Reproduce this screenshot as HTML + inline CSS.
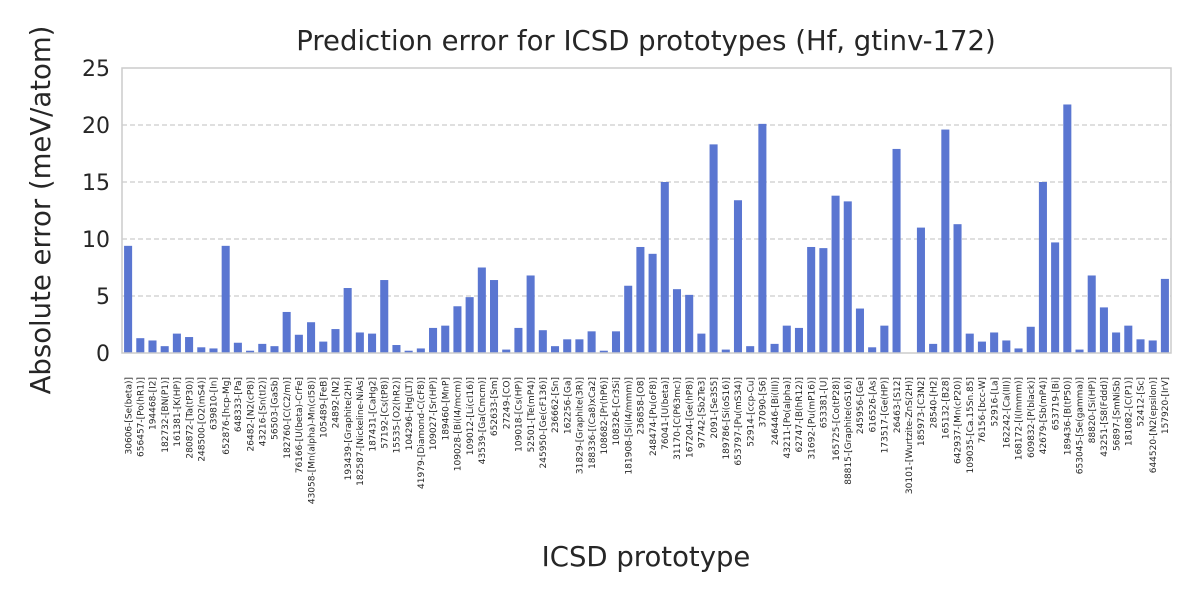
<!DOCTYPE html>
<html><head><meta charset="utf-8"><style>
body{margin:0;background:#fff;}
svg text{font-family:"DejaVu Sans","Liberation Sans",sans-serif;fill:#262626;}
</style></head><body>
<svg id="chart" width="1200" height="600" xmlns="http://www.w3.org/2000/svg">
<rect width="1200" height="600" fill="#fff"/>
<g id="grid"></g>
<g id="bars"></g>
<rect x="122" y="68" width="1049" height="285" fill="none" stroke="#cccccc" stroke-width="1.5"/>
<g id="yticks"></g>
<g id="xticks"></g>
<text x="646" y="50" font-size="27.5" text-anchor="middle">Prediction error for ICSD prototypes (Hf, gtinv-172)</text>
<text transform="translate(50,210) rotate(-90)" font-size="27.5" text-anchor="middle">Absolute error (meV/atom)</text>
<text x="646" y="566" font-size="27.5" text-anchor="middle">ICSD prototype</text>
</svg>
<script>
const categories=["30606-[Se(beta)]","656457-[Po(hR1)]","194468-[I2]","182732-[BN(P1)]","161381-[K(HP)]","280872-[Ta(tP30)]","248500-[O2(mS4)]","639810-[In]","652876-[hcp-Mg]","648333-[Pa]","26482-[N2(cP8)]","43216-[Sn(tI2)]","56503-[GaSb]","182760-[C(C2/m)]","76166-[U(beta)-CrFe]","43058-[Mn(alpha)-Mn(cI58)]","105489-[FeB]","24892-[N2]","193439-[Graphite(2H)]","182587-[Nickeline-NiAs]","187431-[CaHg2]","57192-[Cs(tP8)]","15535-[O2(hR2)]","104296-[Hg(LT)]","41979-[Diamond-C(cF8)]","109027-[Sr(HP)]","189460-[MnP]","109028-[Bi(I4/mcm)]","109012-[Li(cI16)]","43539-[Ga(Cmcm)]","652633-[Sm]","27249-[CO]","109018-[Cs(HP)]","52501-[Te(mP4)]","245950-[Ge(cF136)]","236662-[Sn]","162256-[Ga]","31829-[Graphite(3R)]","188336-[(Ca8)xCa2]","108682-[Pr(hP6)]","108326-[Cr3Si]","181908-[Si(I4/mmm)]","236858-[O8]","248474-[Pu(oF8)]","76041-[U(beta)]","31170-[C(P63mc)]","167204-[Ge(hP8)]","97742-[Sb2Te3]","2091-[Se3S5]","189786-[Si(oS16)]","653797-[Pu(mS34)]","52914-[ccp-Cu]","37090-[S6]","246446-[Bi(III)]","43211-[Po(alpha)]","62747-[B(hR12)]","31692-[Pu(mP16)]","653381-[U]","165725-[Co(tP28)]","88815-[Graphite(oS16)]","245956-[Ge]","616526-[As]","173517-[Ge(HP)]","26463-[S12]","30101-[Wurtzite-ZnS(2H)]","185973-[C3N2]","28540-[H2]","165132-[B28]","642937-[Mn(cP20)]","109035-[Ca.15Sn.85]","76156-[bcc-W]","52916-[La]","162242-[Ca(III)]","168172-[I(Immm)]","609832-[P(black)]","42679-[Sb(mP4)]","653719-[Bi]","189436-[B(tP50)]","653045-[Se(gamma)]","88820-[Si(HP)]","43251-[S8(Fddd)]","56897-[SmNiSb]","181082-[C(P1)]","52412-[Sc]","644520-[N2(epsilon)]","157920-[IrV]"];
const errors=[9.4,1.3,1.1,0.6,1.7,1.4,0.5,0.4,9.4,0.9,0.2,0.8,0.6,3.6,1.6,2.7,1.0,2.1,5.7,1.8,1.7,6.4,0.7,0.2,0.4,2.2,2.4,4.1,4.9,7.5,6.4,0.3,2.2,6.8,2.0,0.6,1.2,1.2,1.9,0.2,1.9,5.9,9.3,8.7,15.0,5.6,5.1,1.7,18.3,0.3,13.4,0.6,20.1,0.8,2.4,2.2,9.3,9.2,13.8,13.3,3.9,0.5,2.4,17.9,0,11.0,0.8,19.6,11.3,1.7,1.0,1.8,1.1,0.4,2.3,15.0,9.7,21.8,0.3,6.8,4.0,1.8,2.4,1.2,1.1,6.5];
const yTicks=[0,5,10,15,20,25];
const X0=122,X1=1171,Y0=353,Y1=68,YMAX=25;
const NS="http://www.w3.org/2000/svg";
const step=(X1-X0)/categories.length;
const xs=i=>X0+step*(i+0.5);
const ys=v=>Y0-(v/YMAX)*(Y0-Y1);
function mk(t,a){const e=document.createElementNS(NS,t);for(const k in a)e.setAttribute(k,a[k]);return e;}
const grid=document.getElementById('grid'),yt=document.getElementById('yticks');
yTicks.forEach(v=>{
  if(v>0&&v<YMAX){const l=mk('line',{x1:X0,x2:X1,y1:ys(v),y2:ys(v),stroke:'#cccccc','stroke-width':1.3,'stroke-dasharray':'5,3'});
  
  
  grid.appendChild(l);}
  const t=mk('text',{x:X0-12,y:ys(v)+8,'font-size':22,'text-anchor':'end'});
  
  
  t.textContent=v;yt.appendChild(t);
});
const bars=document.getElementById('bars'),xt=document.getElementById('xticks');
const bw=step*0.66;
categories.forEach((c,i)=>{
  const v=errors[i];
  const r=mk('rect',{x:xs(i)-bw/2,y:ys(v),width:bw,height:Y0-ys(v),fill:'#5a76d1'});
  
  
  bars.appendChild(r);
  const t=mk('text',{transform:`translate(${xs(i)+3.2},377) rotate(-90)`,'font-size':9,'text-anchor':'end'});
  
  
  t.textContent=c;xt.appendChild(t);
});
</script>
</body></html>
